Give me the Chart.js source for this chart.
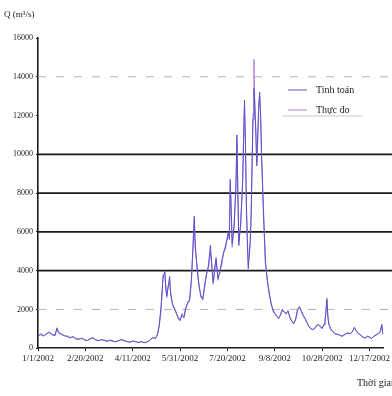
<!DOCTYPE html>
<html>
<head>
<meta charset="utf-8">
<script src="https://cdn.jsdelivr.net/npm/chart.js"></script>
<style>
  html, body { margin: 0; padding: 0; background: #fff; }
  #wrap { width: 392px; height: 396px; }
</style>
</head>
<body>
<div id="wrap"><canvas id="chart" width="392" height="396"></canvas></div>
<script>
// Day of year (0 = 1/1/2002) for each sample
const days = [
  0, 3, 6, 9, 12, 15, 18, 20, 22, 25, 28, 31, 34, 37, 40, 43, 46, 49, 52, 55,
  58, 61, 64, 67, 70, 73, 76, 79, 82, 85, 88, 91, 94, 97, 100, 103, 106, 109, 112, 115,
  118, 121, 124, 126, 128,
  130, 132, 134, 135, 136, 137, 139, 140, 142, 145, 148, 150, 152, 154, 156, 158, 160, 162, 164, 165,
  166, 168, 170, 172, 174, 176, 178, 180, 182, 184, 185, 187, 188, 190, 192, 194, 196, 198, 200, 201,
  202, 203, 204, 205, 207, 209, 210, 211, 212, 214, 216, 218, 219, 220, 221, 222, 224, 225, 226, 227,
  228, 229, 230, 231, 232, 233, 234, 235, 236, 238, 240, 242, 244, 246, 248,
  250, 252, 254, 256, 258, 260, 262, 264, 266, 268, 270, 272, 274, 276, 278, 280, 282, 284, 286, 288,
  290, 292, 294, 296, 298, 300, 302, 303, 304, 305, 306, 307, 309, 311, 313, 316, 318, 321, 324, 327,
  330, 332, 334, 336, 338, 340, 342, 345, 348, 350, 352, 355, 358, 361, 363, 364
];

// Q (m3/s) - Tính toán
const tinhToan = [
  650, 700, 620, 750, 800, 700, 650, 1050, 800, 720, 650, 600, 550, 600, 500, 450, 520, 420, 400, 480,
  550, 420, 380, 450, 400, 350, 420, 380, 320, 380, 450, 400, 350, 300, 380, 330, 300, 350, 280, 320,
  400, 550, 500, 700, 1200,
  2200, 3600, 3950, 3000, 2700, 3000, 3700, 2800, 2300, 1900, 1600, 1450, 1700, 1600, 2100, 2300, 2500, 3600, 5500, 6800,
  5200, 4200, 3200, 2700, 2500, 3300, 3800, 4300, 5300, 3900, 3400, 4300, 4600, 3600, 3900, 4500, 4900, 5300, 5700, 6000,
  5600, 8700, 7000, 5400, 6200, 8500, 11000, 8000, 5300, 6500, 8400, 12800, 10500, 7500, 5500, 4100, 5500, 6700, 9500, 11800,
  13400, 12500, 11000, 9400, 11000, 12300, 13200, 12000, 10100, 7000, 4600, 3500, 2900, 2300, 2000,
  1800, 1650, 1550, 1700, 2000, 1850, 1800, 1900, 1600, 1380, 1250, 1500, 2000, 2150, 1900, 1700, 1540, 1300, 1130, 1000,
  970, 1030, 1150, 1230, 1100, 1030, 1200, 1380, 1900, 2500, 1700, 1230, 1000, 870, 770, 720, 680, 620, 720, 770,
  760, 850, 1080, 900, 770, 700, 620, 510, 620, 560, 510, 620, 720, 800, 1230, 720
];

// Q (m3/s) - Thực đo
const thucDo = [
  600, 760, 650, 720, 850, 680, 700, 980, 760, 700, 620, 640, 520, 580, 470, 480, 500, 450, 380, 500,
  520, 440, 400, 420, 420, 370, 400, 350, 340, 400, 420, 380, 330, 320, 360, 350, 280, 330, 300, 300,
  420, 520, 530, 650, 1100,
  2000, 3800, 3700, 3200, 2600, 3100, 3500, 2900, 2200, 2000, 1500, 1400, 1800, 1550, 2000, 2400, 2400, 3400, 5800, 6600,
  5400, 4000, 3300, 2600, 2600, 3100, 3900, 4100, 5000, 4100, 3300, 4100, 4700, 3500, 4000, 4300, 5000, 5100, 5800, 5900,
  5800, 8400, 7300, 5200, 6400, 8200, 10700, 8300, 5500, 6300, 8700, 12500, 10900, 7200, 5800, 4300, 5300, 6900, 9200, 12100,
  14900, 12200, 11300, 9600, 10700, 12600, 13000, 12300, 9800, 7300, 4400, 3600, 2800, 2400, 1900,
  1750, 1700, 1500, 1750, 1950, 1900, 1750, 1950, 1550, 1400, 1300, 1450, 1950, 2100, 1950, 1650, 1500, 1350, 1100, 1050,
  950, 1000, 1200, 1200, 1150, 1000, 1250, 1400, 1800, 2600, 1600, 1300, 950, 900, 750, 700, 700, 600, 700, 800,
  740, 880, 1050, 920, 740, 720, 600, 530, 600, 580, 490, 640, 700, 820, 1150, 760
];

// x tick positions (day of year) and their labels
const xTickDays = [0, 50, 100, 150, 200, 250, 300, 350];
const xTickLabels = ['1/1/2002', '2/20/2002', '4/11/2002', '5/31/2002', '7/20/2002', '9/8/2002', '10/28/2002', '12/17/2002'];
const seriesNames = ['Tinh toán', 'Thực đo'];
const darkGrid = [4000, 6000, 8000, 10000];
const lightGrid = [2000, 14000];

const toPoints = (vals) => vals.map((v, i) => ({ x: days[i], y: v }));

// custom grid lines, titles and the boxed legend
const decor = {
  id: 'decor',
  beforeDatasetsDraw(chart) {
    const { ctx, chartArea, scales } = chart;
    ctx.save();
    darkGrid.forEach(v => {
      const y = scales.y.getPixelForValue(v);
      ctx.strokeStyle = '#1a1a1a';
      ctx.lineWidth = 1.6;
      ctx.setLineDash([]);
      ctx.beginPath();
      ctx.moveTo(chartArea.left, y);
      ctx.lineTo(chart.width, y);
      ctx.stroke();
    });
    lightGrid.forEach(v => {
      const y = scales.y.getPixelForValue(v);
      ctx.strokeStyle = '#b5b5b5';
      ctx.lineWidth = 1;
      ctx.setLineDash([8, 10]);
      ctx.beginPath();
      ctx.moveTo(chartArea.left, y);
      ctx.lineTo(chart.width, y);
      ctx.stroke();
    });
    ctx.restore();
  },
  afterDraw(chart) {
    const { ctx } = chart;
    ctx.save();
    ctx.fillStyle = '#222';
    ctx.font = '9px "Liberation Serif"';
    ctx.textBaseline = 'middle';
    ctx.fillText('Q (m³/s)', 4, 15);
    ctx.font = '10px "Liberation Serif"';
    ctx.fillText('Thời gian', 357, 383);

    // legend
    const lx = 285, ly = 90;
    ctx.strokeStyle = '#c8c8c8';
    ctx.lineWidth = 1;
    ctx.beginPath();
    ctx.moveTo(lx - 2, 116);
    ctx.lineTo(lx + 77, 116);
    ctx.stroke();
    chart.data.datasets.forEach((ds, i) => {
      const y = ly + i * 20;
      ctx.strokeStyle = ds.borderColor;
      ctx.beginPath();
      ctx.moveTo(lx + 3, y);
      ctx.lineTo(lx + 22, y);
      ctx.stroke();
      ctx.fillStyle = '#222';
      ctx.fillText(ds.label, lx + 31, y);
    });
    ctx.restore();
  }
};

new Chart(document.getElementById('chart'), {
  type: 'line',
  data: {
    datasets: [
      {
        label: seriesNames[0],
        data: toPoints(tinhToan),
        borderColor: '#5a52c8',
        borderWidth: 1,
        pointRadius: 0,
        tension: 0
      },
      {
        label: seriesNames[1],
        data: toPoints(thucDo),
        borderColor: '#b57ad8',
        borderWidth: 1,
        pointRadius: 0,
        tension: 0
      }
    ]
  },
  options: {
    responsive: false,
    animation: false,
    layout: { padding: { left: 10, top: 38, right: 0, bottom: 30 } },
    plugins: { legend: { display: false }, tooltip: { enabled: false } },
    scales: {
      x: {
        type: 'linear',
        min: 0,
        max: 365,
        afterBuildTicks: (axis) => { axis.ticks = xTickDays.map(v => ({ value: v })); },
        ticks: {
          autoSkip: false,
          maxRotation: 0,
          padding: 2,
          color: '#222',
          font: { family: 'Liberation Serif', size: 9 },
          callback: (v) => xTickLabels[xTickDays.indexOf(v)]
        },
        grid: { display: true, drawOnChartArea: false, color: '#222', tickLength: 3 },
        border: { display: true, color: '#1a1a1a', width: 1.6 }
      },
      y: {
        min: 0,
        max: 16000,
        ticks: {
          stepSize: 2000,
          padding: 3,
          color: '#222',
          font: { family: 'Liberation Serif', size: 8 },
          callback: (v) => String(v)
        },
        grid: { display: true, drawOnChartArea: false, color: '#222', tickLength: 2 },
        border: { display: true, color: '#1a1a1a', width: 1.6 }
      }
    }
  },
  plugins: [decor]
});
</script>
</body>
</html>
